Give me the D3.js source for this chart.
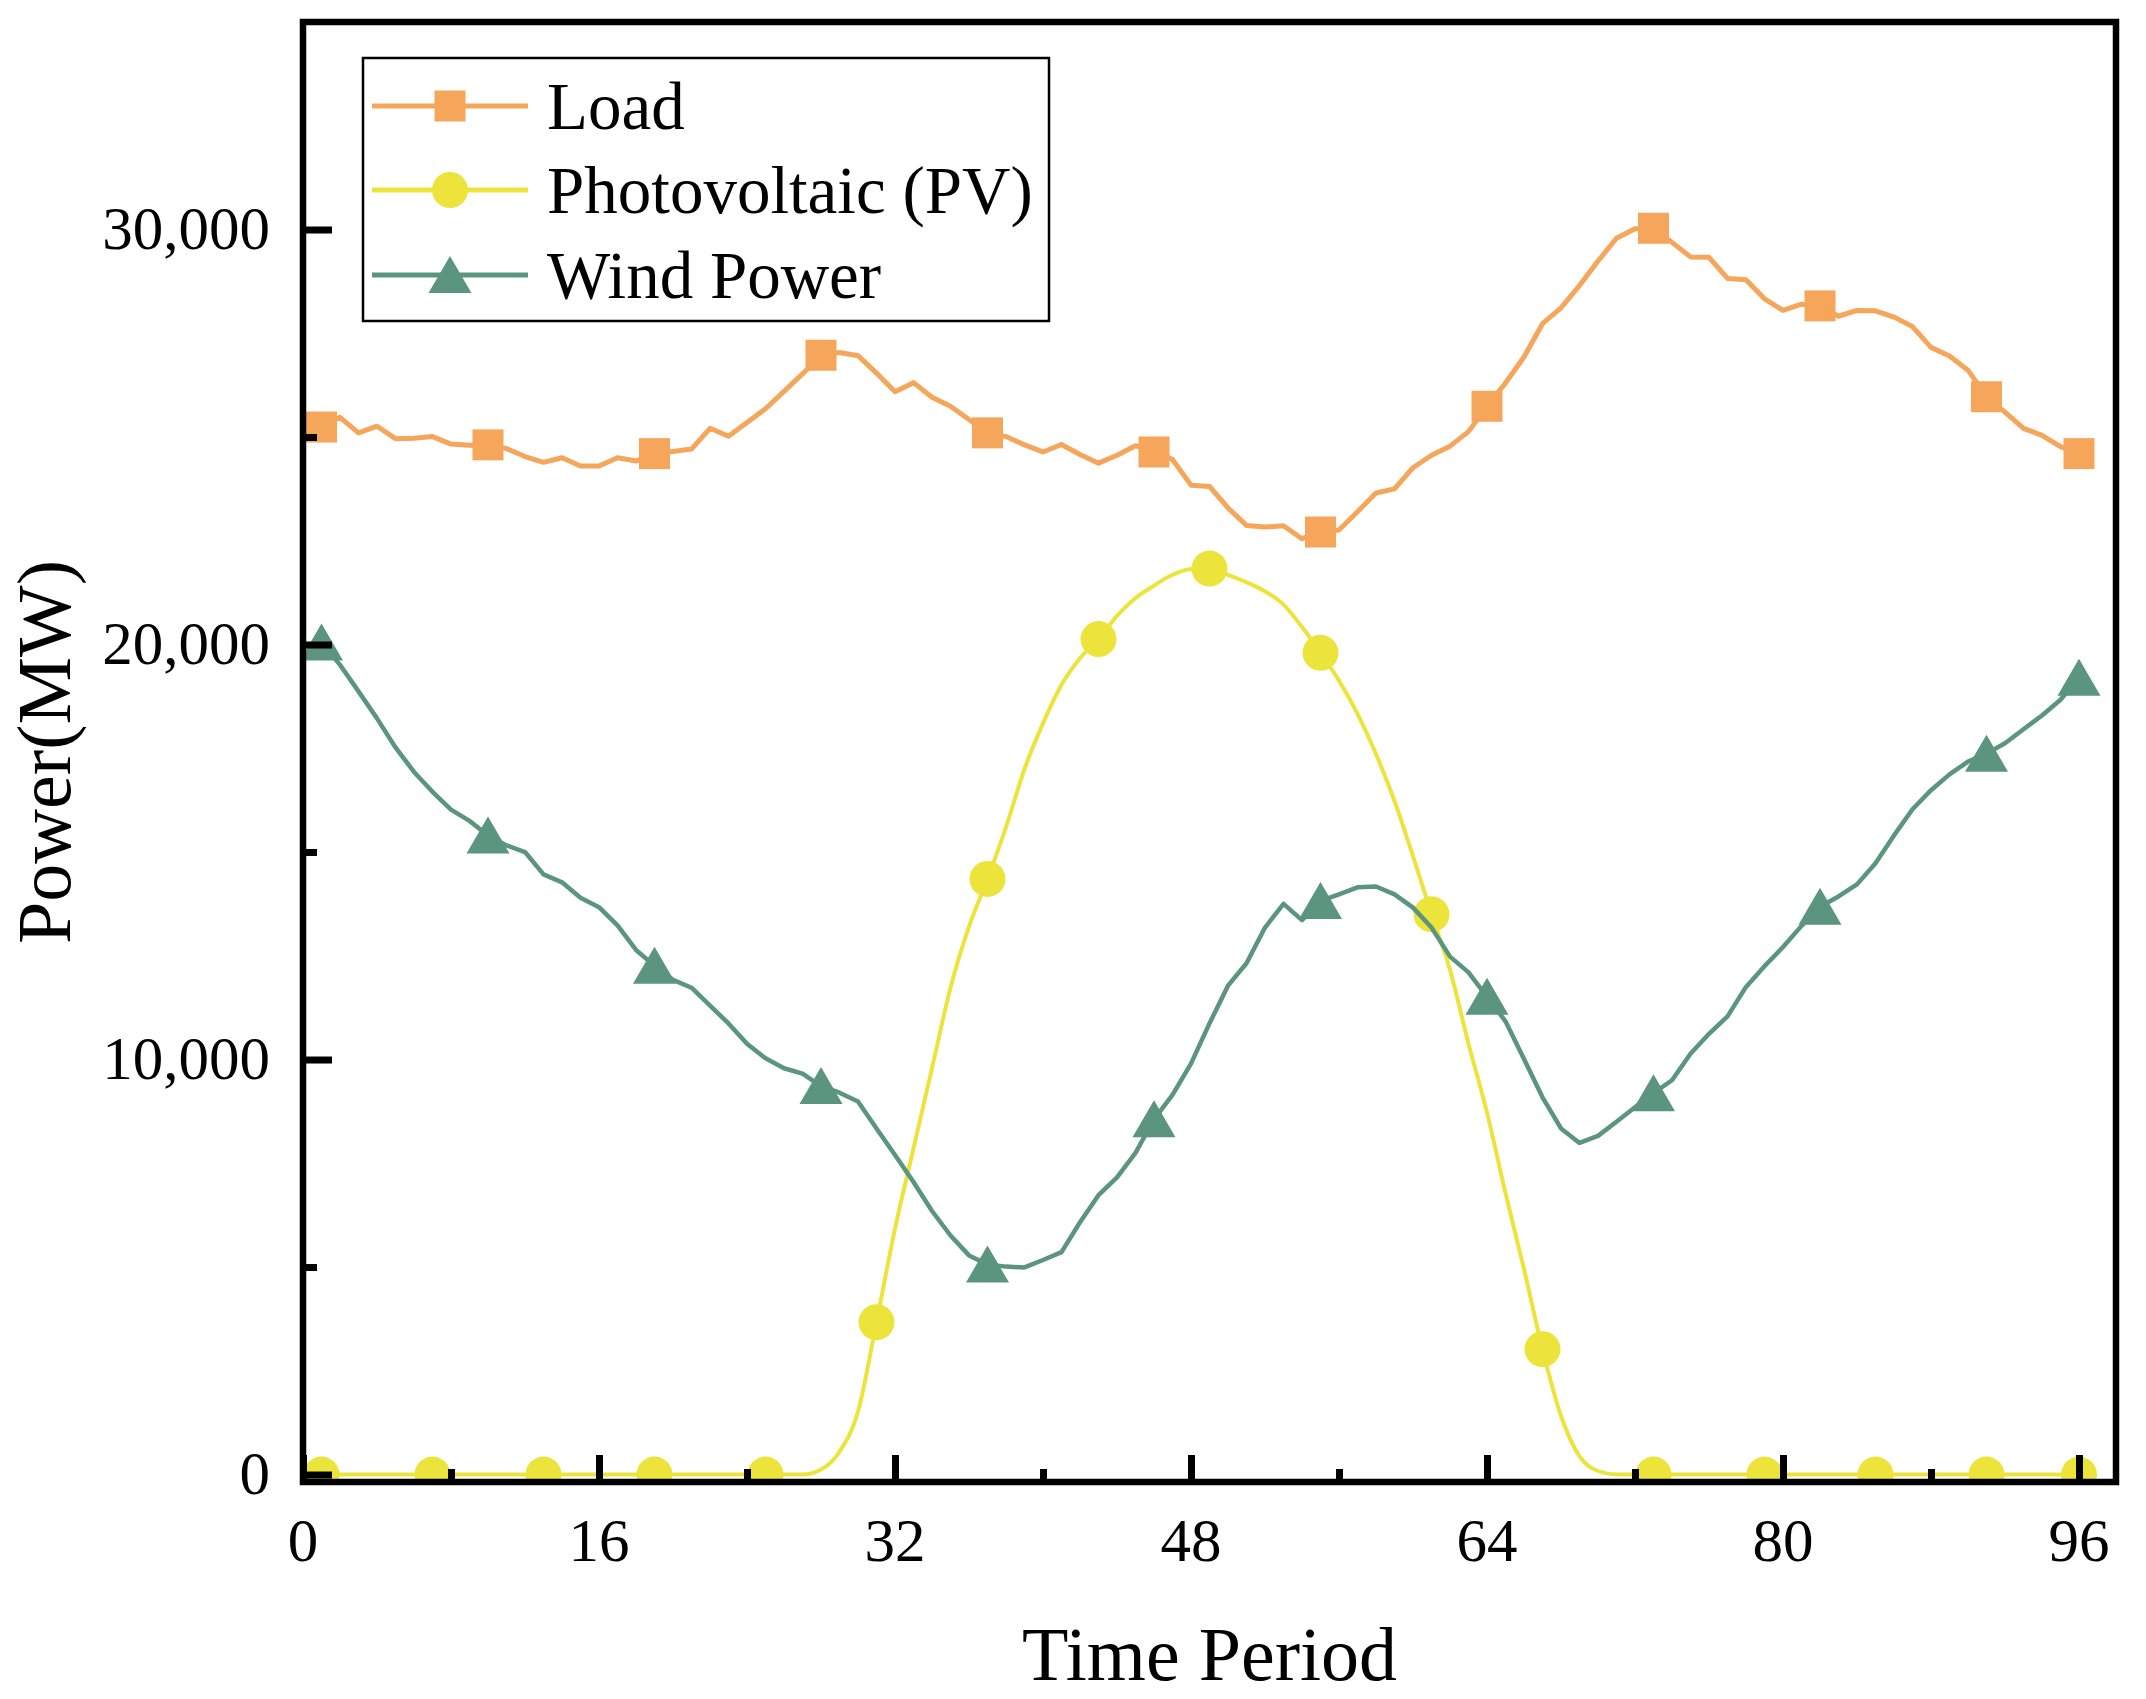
<!DOCTYPE html>
<html>
<head>
<meta charset="utf-8">
<script src="https://cdn.jsdelivr.net/npm/d3@7"></script>
<style>
  html, body { margin: 0; padding: 0; background: #fff; }
  svg { display: block; }
  text { font-family: "Liberation Serif", "Times New Roman", serif; fill: #000; }
</style>
</head>
<body>
<svg id="chart" width="2146" height="1699"></svg>
<script>
// ---------------- data ----------------
const timePeriods = [1,2,3,4,5,6,7,8,9,10,11,12,13,14,15,16,17,18,19,20,21,22,23,24,25,26,27,28,29,30,31,32,33,34,35,36,37,38,39,40,41,42,43,44,45,46,47,48,49,50,51,52,53,54,55,56,57,58,59,60,61,62,63,64,65,66,67,68,69,70,71,72,73,74,75,76,77,78,79,80,81,82,83,84,85,86,87,88,89,90,91,92,93,94,95,96];

const loadValues = [
  25240,25475,25100,25260,24960,24970,25010,24830,24800,24810,
  24720,24530,24390,24500,24300,24300,24500,24420,24600,24650,
  24710,25210,25020,25350,25680,26100,26520,26970,27035,26960,
  26540,26090,26310,25960,25740,25420,25100,25010,24810,24640,
  24820,24580,24370,24560,24790,24640,24460,23840,23810,23290,
  22870,22830,22860,22550,22710,22760,23200,23650,23750,24260,
  24560,24780,25130,25740,26300,26930,27730,28110,28650,29240,
  29790,30020,30030,29690,29340,29330,28820,28790,28330,28050,
  28200,28160,27910,28050,28040,27890,27660,27160,26950,26610,
  25970,25600,25210,25040,24770,24600
];

const pvValues = [
  0,0,0,0,0,0,0,0,0,0,
  0,0,0,0,0,0,0,0,0,0,
  0,0,0,0,0,0,0,120,550,1520,
  3670,5920,7860,9790,11730,13200,14350,15600,17000,18100,
  19030,19670,20130,20690,21120,21420,21680,21820,21830,21680,
  21500,21280,20960,20420,19800,19130,18330,17360,16230,14900,
  13500,12160,10380,8720,6780,4950,3020,1410,440,85,
  0,0,0,0,0,0,0,0,0,0,
  0,0,0,0,0,0,0,0,0,0,
  0,0,0,0,0,0
];

const windValues = [
  20050,19510,18870,18220,17520,16930,16450,16020,15750,15400,
  15160,15000,14460,14270,13900,13670,13230,12640,12260,11920,
  11730,11300,10870,10380,10030,9790,9660,9360,9200,8990,
  8340,7700,7050,6350,5760,5280,5060,5010,4990,5170,
  5360,6080,6730,7160,7750,8560,9150,9900,10870,11780,
  12320,13180,13750,13360,13820,13980,14150,14170,13980,13660,
  13180,12480,12100,11510,10920,10010,9090,8340,7990,8160,
  8500,8850,9190,9500,10140,10620,11040,11750,12250,12710,
  13220,13680,13930,14220,14730,15400,16030,16490,16870,17180,
  17370,17620,17960,18290,18670,19200
];

const seriesNames = ["Load", "Photovoltaic (PV)", "Wind Power"];
const xTickValues = [0, 16, 32, 48, 64, 80, 96];
const xMinorTickValues = [8, 24, 40, 56, 72, 88];
const yTickValues = [0, 10000, 20000, 30000];
const yMinorTickValues = [5000, 15000, 25000];
const xTitle = "Time Period";
const yTitle = "Power(MW)";

(function () {
// ---------------- layout / style ----------------
const pL = 303, pR = 2116, pT = 22, pB = 1482;
const colors = { load: "#F5A65B", pv: "#EDE43B", wind: "#5B9580" };

const svg = d3.select("#chart");

const x = d3.scaleLinear().domain([0, 98]).range([pL, pR]);
const y = d3.scaleLinear().domain([-180, 35000]).range([pB, pT]);

svg.append("defs").append("clipPath").attr("id", "plotClip")
  .append("rect").attr("x", pL).attr("y", pT)
  .attr("width", pR - pL).attr("height", pB - pT);

const plot = svg.append("g").attr("clip-path", "url(#plotClip)");

const series = [
  { name: seriesNames[0], values: loadValues, color: colors.load, width: 5, marker: "square", every: 9, curve: d3.curveLinear },
  { name: seriesNames[1], values: pvValues, color: colors.pv, width: 4, marker: "circle", every: 6, curve: d3.curveMonotoneX },
  { name: seriesNames[2], values: windValues, color: colors.wind, width: 4.5, marker: "triangle", every: 9, curve: d3.curveLinear }
];

function markerPath(type) {
  if (type === "square") return "M-15.5,-15.5H15.5V15.5H-15.5Z";
  if (type === "circle") return d3.arc()({ innerRadius: 0, outerRadius: 18, startAngle: 0, endAngle: 2 * Math.PI });
  return "M0,-19L21.5,18L-21.5,18Z";
}

series.forEach(s => {
  const pts = timePeriods.map((t, i) => ({ t, v: s.values[i] }));
  const line = d3.line().x(d => x(d.t)).y(d => y(d.v)).curve(s.curve);
  const g = plot.append("g");
  g.append("path").datum(pts)
    .attr("d", line)
    .attr("fill", "none")
    .attr("stroke", s.color)
    .attr("stroke-width", s.width)
    .attr("stroke-linejoin", "round")
    .attr("stroke-linecap", "round");
  const lastT = timePeriods[timePeriods.length - 1];
  const mk = pts.filter(d => (d.t - 1) % s.every === 0 || d.t === lastT);
  g.selectAll("path.m").data(mk).enter().append("path")
    .attr("class", "m")
    .attr("d", markerPath(s.marker))
    .attr("transform", d => `translate(${x(d.t)},${y(d.v)})`)
    .attr("fill", s.color);
});

// ---------------- axes / frame ----------------
svg.append("rect")
  .attr("x", pL).attr("y", pT)
  .attr("width", pR - pL).attr("height", pB - pT)
  .attr("fill", "none").attr("stroke", "#000").attr("stroke-width", 6.5);

function inwardTicks(axisGen, transform) {
  const g = svg.append("g").attr("transform", transform).call(axisGen);
  g.select(".domain").remove();
  g.selectAll(".tick line").attr("stroke", "#000").attr("stroke-width", 7);
  g.selectAll(".tick text").remove();
}
inwardTicks(d3.axisTop(x).tickValues(xTickValues).tickSize(27), `translate(0,${pB})`);
inwardTicks(d3.axisTop(x).tickValues(xMinorTickValues).tickSize(13), `translate(0,${pB})`);
inwardTicks(d3.axisRight(y).tickValues(yTickValues).tickSize(29), `translate(${pL},0)`);
inwardTicks(d3.axisRight(y).tickValues(yMinorTickValues).tickSize(14), `translate(${pL},0)`);

// tick labels
svg.append("g").selectAll("text").data(xTickValues).enter().append("text")
  .attr("x", d => x(d)).attr("y", 1561)
  .attr("text-anchor", "middle")
  .attr("font-size", 61)
  .text(d => d3.format("d")(d));

svg.append("g").selectAll("text").data(yTickValues).enter().append("text")
  .attr("x", 270).attr("y", d => y(d) + 19)
  .attr("text-anchor", "end")
  .attr("font-size", 61)
  .text(d => d3.format(",")(d));

// axis titles
svg.append("text")
  .attr("x", (pL + pR) / 2).attr("y", 1680)
  .attr("text-anchor", "middle")
  .attr("font-size", 76)
  .text(xTitle);

svg.append("text")
  .attr("transform", `translate(70,${(pT + pB) / 2}) rotate(-90)`)
  .attr("text-anchor", "middle")
  .attr("font-size", 76)
  .text(yTitle);

// ---------------- legend ----------------
const legend = svg.append("g");
legend.append("rect")
  .attr("x", 363).attr("y", 58).attr("width", 686).attr("height", 263)
  .attr("fill", "#fff").attr("stroke", "#000").attr("stroke-width", 2.5);

const rowY = [106, 190, 275];
series.forEach((s, i) => {
  const row = legend.append("g").attr("transform", `translate(0,${rowY[i]})`);
  row.append("line")
    .attr("x1", 372).attr("x2", 528).attr("y1", 0).attr("y2", 0)
    .attr("stroke", s.color).attr("stroke-width", 5);
  row.append("path")
    .attr("d", markerPath(s.marker))
    .attr("transform", "translate(450,0)")
    .attr("fill", s.color);
  row.append("text")
    .attr("x", 547).attr("y", 23)
    .attr("font-size", 67)
    .text(s.name);
});
})();
</script>
</body>
</html>
